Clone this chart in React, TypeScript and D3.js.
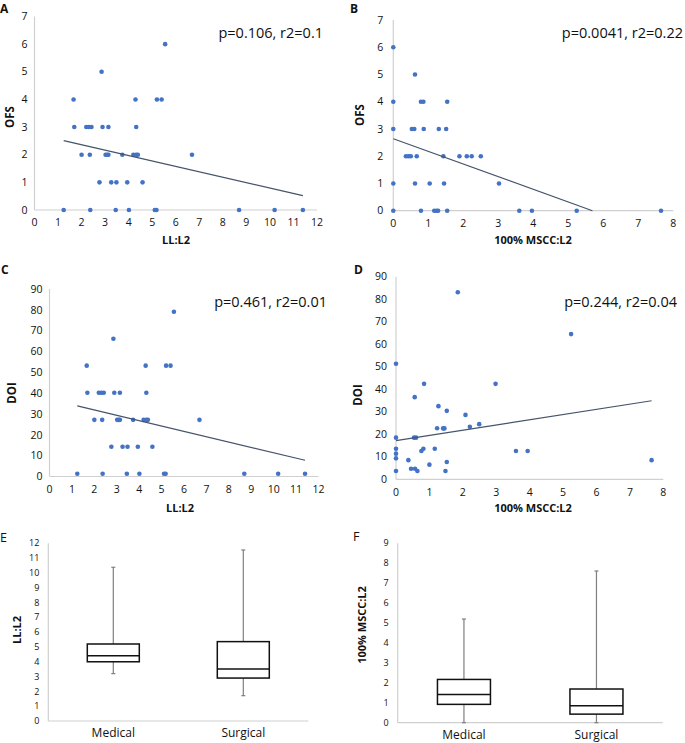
import React from "react";
import * as d3 from "d3";

// ---------- DATA ----------
// Panels A & C: LL:L2 vs OFS / DOI (same patients)
const llL2 = [1.24, 2.37, 3.45, 4.01, 5.11, 5.18, 8.69, 10.2, 11.4,
  2.76, 3.26, 3.48, 3.94, 4.59,
  2.0, 2.35, 3.02, 3.09, 3.14, 3.73, 4.2, 4.32, 4.39, 6.69,
  1.69, 2.2, 2.31, 2.42, 2.89, 3.14, 4.32,
  1.66, 4.29, 5.2, 5.4,
  2.85,
  5.55];
const ofsA = [0, 0, 0, 0, 0, 0, 0, 0, 0,
  1, 1, 1, 1, 1,
  2, 2, 2, 2, 2, 2, 2, 2, 2, 2,
  3, 3, 3, 3, 3, 3, 3,
  4, 4, 4, 4,
  5,
  6];
const doiC = [1.3, 1.3, 1.3, 1.3, 1.3, 1.3, 1.3, 1.3, 1.3,
  14.3, 14.3, 14.3, 14.3, 14.3,
  27.2, 27.2, 27.2, 27.2, 27.2, 27.2, 27.2, 27.2, 27.2, 27.2,
  40.2, 40.2, 40.2, 40.2, 40.2, 40.2, 40.2,
  53.2, 53.2, 53.2, 53.2,
  66.1,
  79.1];

// Panel B: 100% MSCC:L2 vs OFS
const msccB = [0,
  0.62,
  0, 0.79, 0.86, 1.54,
  0, 0.53, 0.6, 0.87, 1.3, 1.51,
  0.36, 0.43, 0.5, 0.67, 1.43, 1.89, 2.1, 2.24, 2.5,
  0, 0.62, 1.04, 1.45, 3.02,
  0, 0.79, 1.17, 1.24, 1.28, 1.54, 3.6, 3.96, 5.24, 7.65];
const ofsB = [6,
  5,
  4, 4, 4, 4,
  3, 3, 3, 3, 3, 3,
  2, 2, 2, 2, 2, 2, 2, 2, 2,
  1, 1, 1, 1, 1,
  0, 0, 0, 0, 0, 0, 0, 0, 0, 0];

// Panel D: 100% MSCC:L2 vs DOI
const msccD = [1.85, 5.24, 0, 0.84, 2.98, 0.56, 1.27, 1.52, 2.08, 2.49, 2.21, 1.23, 1.41, 1.45,
  0, 0.54, 0.6, 0, 0.82, 0.76, 1.16, 3.59, 3.94, 0, 0, 0.37, 1.52, 7.65, 1.0, 0.45, 0.57, 0.64, 0, 1.48];
const doiD = [83.1, 64.5, 51.3, 42.4, 42.4, 36.5, 32.5, 30.4, 28.6, 24.5, 23.3, 22.7, 22.6, 22.6,
  18.5, 18.5, 18.5, 13.6, 13.6, 12.6, 13.6, 12.6, 12.6, 11.4, 9.3, 8.5, 7.7, 8.5, 6.5, 4.7, 4.7, 3.7, 3.7, 3.7];

// Trend lines [intercept, slope]
const trendA = [2.753, -0.196];
const trendB = [2.64, -0.464];
const trendC = [37.09, -2.57];
const trendD = [17.2, 2.314];

const statsA = "p=0.106, r2=0.1";
const statsB = "p=0.0041, r2=0.22";
const statsC = "p=0.461, r2=0.01";
const statsD = "p=0.244, r2=0.04";

// Box plots [min, q1, median, q3, max]
const groups = ["Medical", "Surgical"];
const boxE = [[3.2, 4.0, 4.41, 5.2, 10.38], [1.71, 2.9, 3.51, 5.36, 11.55]];
const boxF = [[0, 0.92, 1.42, 2.17, 5.2], [0, 0.43, 0.85, 1.69, 7.61]];

// Ticks
const ticksLL = d3.range(0, 13, 1);
const ticksMSCC = d3.range(0, 9, 1);
const ticksOFS = d3.range(0, 8, 1);
const ticksDOI = d3.range(0, 100, 10);
const ticksE = d3.range(0, 13, 1);
const ticksF = d3.range(0, 10, 1);

// ---------- STYLE ----------
const FONT = "'Open Sans', 'Noto Sans', sans-serif";
const DOT = "#4472c4";
const TREND = "#44546a";
const AXIS = "#d0d0d0";

type ScatterProps = {
  xs: number[]; ys: number[];
  xDomain: [number, number]; yDomain: [number, number];
  xTicks: number[]; yTicks: number[];
  left: number; right: number; top: number; bottom: number;
  trend: number[];
  stats: string; statsX: number; statsY: number;
  xTitle: string; xTitleX: number; xTitleY: number;
  yTitle: string; yTitleX: number; yTitleY: number;
  letter: string; letterX: number; letterY: number;
  yLabelGap: number; xLabelGap: number;
};

function Scatter(p: ScatterProps) {
  const x = d3.scaleLinear().domain(p.xDomain).range([p.left, p.right]);
  const y = d3.scaleLinear().domain(p.yDomain).range([p.bottom, p.top]);
  const [x0, x1] = d3.extent(p.xs) as [number, number];
  const f = (v: number) => p.trend[0] + p.trend[1] * v;
  let xe = x1;
  if (f(xe) < p.yDomain[0]) xe = (p.yDomain[0] - p.trend[0]) / p.trend[1];
  const line = d3.line<[number, number]>().x(d => x(d[0])).y(d => y(d[1]));
  return (
    <g fontFamily={FONT}>
      <line x1={p.left} x2={p.left} y1={p.bottom} y2={p.top} stroke={AXIS} strokeWidth={1.2} />
      <line x1={p.left} x2={p.right} y1={p.bottom} y2={p.bottom} stroke={AXIS} strokeWidth={1.2} />
      {p.yTicks.map(t => (
        <text key={"y" + t} x={p.left - p.yLabelGap} y={y(t)} dy="0.35em" textAnchor="end" fontSize={10.5} fill="#111">{t}</text>
      ))}
      {p.xTicks.map(t => (
        <text key={"x" + t} x={x(t)} y={p.bottom + p.xLabelGap} dy="0.35em" textAnchor="middle" fontSize={10.5} fill="#111">{t}</text>
      ))}
      {p.xs.map((v, i) => (
        <circle key={i} cx={x(v)} cy={y(p.ys[i])} r={2.3} fill={DOT} />
      ))}
      <path d={line([[x0, f(x0)], [xe, f(xe)]]) || ""} stroke={TREND} strokeWidth={1.2} fill="none" />
      <text x={p.statsX} y={p.statsY} dy="0.35em" textAnchor="end" fontSize={14.5} fill="#111">{p.stats}</text>
      <text x={p.xTitleX} y={p.xTitleY} dy="0.35em" textAnchor="middle" fontSize={11} fontWeight="bold" fill="#111">{p.xTitle}</text>
      <text transform={`translate(${p.yTitleX},${p.yTitleY}) rotate(-90)`} dy="0.35em" textAnchor="middle" fontSize={11.5} fontWeight="bold" fill="#111">{p.yTitle}</text>
      <text x={p.letterX} y={p.letterY} fontSize={12} fontWeight="bold" fill="#111">{p.letter}</text>
    </g>
  );
}

type BoxProps = {
  data: number[][]; yDomain: [number, number]; yTicks: number[];
  left: number; right: number; top: number; bottom: number;
  yTitle: string; yTitleX: number; yTitleY: number;
  letter: string; letterX: number; letterY: number;
  catY: number;
};

function BoxPanel(p: BoxProps) {
  const x = d3.scaleBand<string>().domain(groups).range([p.left, p.right]);
  const y = d3.scaleLinear().domain(p.yDomain).range([p.bottom, p.top]);
  const bw = x.bandwidth() * 0.4;
  return (
    <g fontFamily={FONT}>
      <line x1={p.left} x2={p.left} y1={p.bottom} y2={p.top} stroke={AXIS} strokeWidth={1.2} />
      <line x1={p.left} x2={p.right} y1={p.bottom} y2={p.bottom} stroke={AXIS} strokeWidth={1.2} />
      {p.yTicks.map(t => (
        <text key={t} x={p.left - 9} y={y(t)} dy="0.35em" textAnchor="end" fontSize={9} fill="#111">{t}</text>
      ))}
      {groups.map((g, i) => {
        const [mn, q1, md, q3, mx] = p.data[i];
        const cx = (x(g) as number) + x.bandwidth() / 2;
        return (
          <g key={g}>
            <line x1={cx} x2={cx} y1={y(q3)} y2={y(mx)} stroke="#7f7f7f" strokeWidth={1.2} />
            <line x1={cx} x2={cx} y1={y(q1)} y2={y(mn)} stroke="#7f7f7f" strokeWidth={1.2} />
            <line x1={cx - 2} x2={cx + 2} y1={y(mx)} y2={y(mx)} stroke="#7f7f7f" strokeWidth={1.2} />
            <line x1={cx - 2} x2={cx + 2} y1={y(mn)} y2={y(mn)} stroke="#7f7f7f" strokeWidth={1.2} />
            <rect x={cx - bw / 2} y={y(q3)} width={bw} height={y(q1) - y(q3)} fill="#fff" stroke="#111" strokeWidth={1.5} />
            <line x1={cx - bw / 2} x2={cx + bw / 2} y1={y(md)} y2={y(md)} stroke="#111" strokeWidth={1.5} />
            <text x={cx} y={p.catY} dy="0.35em" textAnchor="middle" fontSize={12} fill="#111">{g}</text>
          </g>
        );
      })}
      <text transform={`translate(${p.yTitleX},${p.yTitleY}) rotate(-90)`} dy="0.35em" textAnchor="middle" fontSize={11} fontWeight="bold" fill="#111">{p.yTitle}</text>
      <text x={p.letterX} y={p.letterY} dy="0.35em" fontSize={12.5} fill="#111">{p.letter}</text>
    </g>
  );
}

export default function App() {
  return (
    <svg width={685} height={743} style={{ position: "absolute", left: 0, top: 0, background: "#fff" }}>
      <rect width={685} height={743} fill="#fff" />
      <Scatter xs={llL2} ys={ofsA} xDomain={[0, 12]} yDomain={[0, 7]} xTicks={ticksLL} yTicks={ticksOFS}
        left={34.5} right={317} top={16.5} bottom={210} trend={trendA}
        stats={statsA} statsX={323} statsY={33}
        xTitle="LL:L2" xTitleX={176} xTitleY={240}
        yTitle="OFS" yTitleX={10} yTitleY={117}
        letter="A" letterX={0} letterY={13} yLabelGap={7} xLabelGap={12} />
      <Scatter xs={msccB} ys={ofsB} xDomain={[0, 8]} yDomain={[0, 7]} xTicks={ticksMSCC} yTicks={ticksOFS}
        left={393.3} right={673.3} top={20} bottom={210.7} trend={trendB}
        stats={statsB} statsX={683} statsY={33}
        xTitle="100% MSCC:L2" xTitleX={533} xTitleY={240}
        yTitle="OFS" yTitleX={360} yTitleY={115}
        letter="B" letterX={350} letterY={13} yLabelGap={10} xLabelGap={12.5} />
      <Scatter xs={llL2} ys={doiC} xDomain={[0, 12]} yDomain={[0, 90]} xTicks={ticksLL} yTicks={ticksDOI}
        left={49.5} right={318.5} top={289} bottom={476.5} trend={trendC}
        stats={statsC} statsX={327} statsY={302}
        xTitle="LL:L2" xTitleX={180} xTitleY={508}
        yTitle="DOI" yTitleX={12} yTitleY={393}
        letter="C" letterX={1} letterY={274} yLabelGap={7} xLabelGap={12.5} />
      <Scatter xs={msccD} ys={doiD} xDomain={[0, 8]} yDomain={[0, 90]} xTicks={ticksMSCC} yTicks={ticksDOI}
        left={396} right={663.3} top={276.7} bottom={479.3} trend={trendD}
        stats={statsD} statsX={677} statsY={302}
        xTitle="100% MSCC:L2" xTitleX={533} xTitleY={508}
        yTitle="DOI" yTitleX={358} yTitleY={395}
        letter="D" letterX={354} letterY={274} yLabelGap={9} xLabelGap={13} />
      <BoxPanel data={boxE} yDomain={[0, 12]} yTicks={ticksE}
        left={48.3} right={308.3} top={543.3} bottom={721}
        yTitle="LL:L2" yTitleX={17} yTitleY={630}
        letter="E" letterX={0} letterY={538} catY={733} />
      <BoxPanel data={boxF} yDomain={[0, 9]} yTicks={ticksF}
        left={397.7} right={662.7} top={543.3} bottom={722.7}
        yTitle="100% MSCC:L2" yTitleX={362} yTitleY={625}
        letter="F" letterX={353} letterY={537} catY={735} />
    </svg>
  );
}
